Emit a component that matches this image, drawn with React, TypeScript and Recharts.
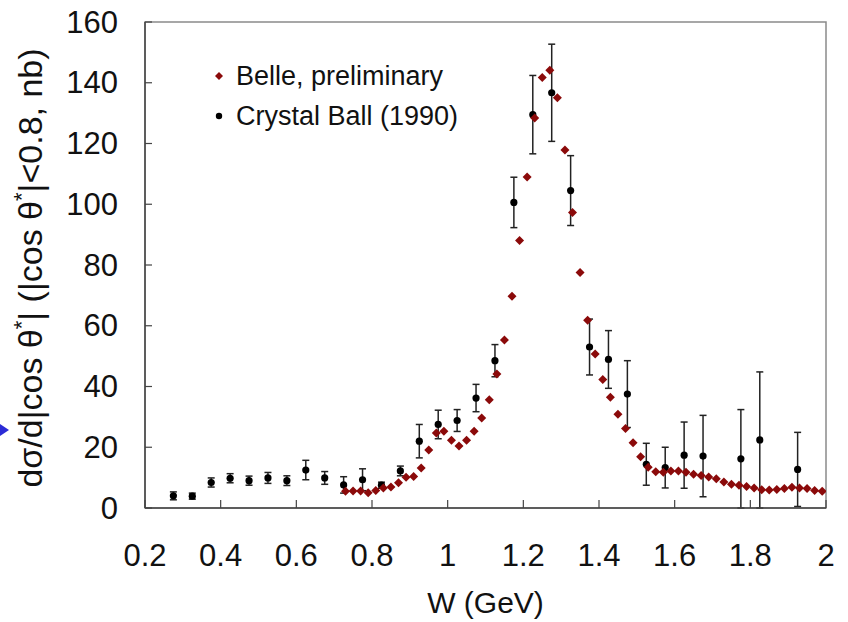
import { ErrorBar, Legend, ReferenceArea, Scatter, ScatterChart, XAxis, YAxis } from "recharts";

const FONT = "'Liberation Sans', Arial, sans-serif";
const BELLE_RED = "#8b0a0a";

// Belle, preliminary (W in GeV, dσ/d|cosθ*| in nb)
const BELLE_W = [
  0.73, 0.75, 0.77, 0.79, 0.81, 0.83, 0.85, 0.87, 0.89, 0.91, 0.93, 0.95, 0.97, 0.99, 1.01, 1.03,
  1.05, 1.07, 1.09, 1.11, 1.13, 1.15, 1.17, 1.19, 1.21, 1.23, 1.25, 1.27, 1.29, 1.31, 1.33, 1.35,
  1.37, 1.39, 1.41, 1.43, 1.45, 1.47, 1.49, 1.51, 1.53, 1.55, 1.57, 1.59, 1.61, 1.63, 1.65, 1.67,
  1.69, 1.71, 1.73, 1.75, 1.77, 1.79, 1.81, 1.83, 1.85, 1.87, 1.89, 1.91, 1.93, 1.95, 1.97, 1.99,
];
const BELLE_XS = [
  5.5, 5.6, 5.6, 5.0, 5.8, 6.6, 6.9, 8.3, 10.1, 10.4, 13.2, 19.1, 24.7, 25.3, 22.3, 20.4,
  22.3, 25.3, 29.6, 35.6, 44.1, 55.3, 69.7, 88.1, 109.0, 128.4, 141.7, 144.1, 135.1, 117.9, 97.3, 77.5,
  61.8, 50.7, 42.3, 36.5, 30.9, 26.2, 21.5, 16.9, 13.4, 11.9, 11.8, 12.2, 12.2, 11.8, 11.1, 10.7,
  10.2, 9.6, 8.6, 7.8, 7.5, 7.1, 6.6, 6.0, 5.9, 6.1, 6.4, 6.8, 6.6, 6.4, 5.8, 5.5,
];

// Crystal Ball (1990)
const CB_W = [
  0.275, 0.325, 0.375, 0.425, 0.475, 0.525, 0.575, 0.625, 0.675, 0.725, 0.775, 0.825, 0.875, 0.925,
  0.975, 1.025, 1.075, 1.125, 1.175, 1.225, 1.275, 1.325, 1.375, 1.425, 1.475, 1.525, 1.575, 1.625,
  1.675, 1.775, 1.825, 1.925,
];
const CB_XS = [
  4.0, 3.9, 8.4, 9.8, 9.0, 9.9, 9.0, 12.5, 9.9, 7.6, 9.3, 7.5, 12.2, 22.0,
  27.5, 28.8, 36.2, 48.5, 100.6, 129.5, 136.7, 104.5, 53.0, 48.9, 37.5, 14.4, 13.3, 17.4,
  17.1, 16.2, 22.4, 12.7,
];
const CB_ERR = [
  1.3, 1.0, 1.5, 1.5, 1.5, 1.8, 1.6, 3.2, 2.1, 2.7, 3.6, 1.0, 1.6, 5.5,
  4.7, 3.6, 4.5, 5.3, 8.3, 12.9, 16.0, 11.5, 9.2, 9.5, 11.0, 6.9, 6.7, 10.9,
  13.4, 16.2, 22.4, 12.2,
];

const X_TICKS = [0.2, 0.4, 0.6, 0.8, 1.0, 1.2, 1.4, 1.6, 1.8, 2.0];
const Y_TICKS = [0, 20, 40, 60, 80, 100, 120, 140, 160];

const belleData = BELLE_W.map((w, i) => ({ w, xs: BELLE_XS[i] }));
const cbData = CB_W.map((w, i) => ({ w, xs: CB_XS[i], err: CB_ERR[i] }));

const fmt = (v: number) => String(Math.round(v * 10) / 10);

function XTick({ x, y, payload }: any) {
  return (
    <g>
      <line x1={x} x2={x} y1={y} y2={y - 8} stroke="#444" strokeWidth={1.2} />
      <text x={x} y={y + 47} textAnchor="middle" dominantBaseline="central" fontSize={31} fill="#111" fontFamily={FONT}>
        {fmt(payload.value)}
      </text>
    </g>
  );
}

function YTick({ x, y, payload }: any) {
  return (
    <g>
      <line x1={x} x2={x + 7} y1={y} y2={y} stroke="#444" strokeWidth={1.2} />
      <text x={x - 27} y={y} textAnchor="end" dominantBaseline="central" fontSize={31} fill="#111" fontFamily={FONT}>
        {fmt(payload.value)}
      </text>
    </g>
  );
}

function XTitle({ viewBox }: any) {
  return (
    <text x={viewBox.x + viewBox.width / 2} y={viewBox.y + 94} textAnchor="middle" dominantBaseline="central" fontSize={30} fill="#111" fontFamily={FONT}>
      W (GeV)
    </text>
  );
}

function YTitle({ viewBox }: any) {
  const cx = 30;
  const cy = viewBox.y + viewBox.height / 2 + 3;
  return (
    <text x={cx} y={cy} transform={`rotate(-90 ${cx} ${cy})`} textAnchor="middle" dominantBaseline="central" fontSize={34} fill="#111" fontFamily={FONT}>
      dσ/d|cos θ<tspan dy={-9} fontSize={22}>*</tspan>
      <tspan dy={9}>| (|cos θ</tspan>
      <tspan dy={-9} fontSize={22}>*</tspan>
      <tspan dy={9}>|&lt;0.8, nb)</tspan>
    </text>
  );
}

const Diamond = ({ cx, cy }: any) => (
  <polygon points={`${cx},${cy - 4.5} ${cx + 4.5},${cy} ${cx},${cy + 4.5} ${cx - 4.5},${cy}`} fill={BELLE_RED} />
);

const Dot = ({ cx, cy }: any) => <circle cx={cx} cy={cy} r={3.6} fill="#000" />;

function LegendBox() {
  return (
    <div style={{ fontFamily: FONT, fontSize: 27, color: "#111", lineHeight: "40px" }}>
      <div style={{ display: "flex", alignItems: "center" }}>
        <svg width={24} height={12}>
          <polygon points="7,2 11,6 7,10 3,6" fill={BELLE_RED} />
        </svg>
        <span>Belle, preliminary</span>
      </div>
      <div style={{ display: "flex", alignItems: "center" }}>
        <svg width={24} height={12}>
          <circle cx={7} cy={6} r={3.2} fill="#000" />
        </svg>
        <span>Crystal Ball (1990)</span>
      </div>
    </div>
  );
}

export default function App() {
  return (
    <div style={{ position: "absolute", left: 0, top: 0, width: 848, height: 622, background: "#fff" }}>
      <svg width={12} height={20} style={{ position: "absolute", left: 0, top: 420 }}>
        <polygon points="0,4 9,10 0,16" fill="#2b2bd6" />
      </svg>
      <ScatterChart width={848} height={622} margin={{ top: 22, right: 22, bottom: 84, left: 85 }}>
        <ReferenceArea x1={0.2} x2={2} y1={0} y2={160} fill="none" stroke="#8a8a8a" strokeWidth={1.5} />
        <XAxis
          type="number"
          dataKey="w"
          domain={[0.2, 2]}
          ticks={X_TICKS}
          allowDataOverflow
          height={30}
          tickSize={0}
          tickMargin={0}
          tickLine={false}
          axisLine={{ stroke: "#444", strokeWidth: 1.5 }}
          tick={<XTick />}
          interval={0}
          label={<XTitle />}
        />
        <YAxis
          type="number"
          dataKey="xs"
          domain={[0, 160]}
          ticks={Y_TICKS}
          allowDataOverflow
          width={60}
          tickSize={0}
          tickMargin={0}
          tickLine={false}
          axisLine={{ stroke: "#444", strokeWidth: 1.5 }}
          tick={<YTick />}
          interval={0}
          label={<YTitle />}
        />
        <Scatter name="Crystal Ball (1990)" data={cbData} shape={<Dot />} isAnimationActive={false}>
          <ErrorBar dataKey="err" direction="y" width={3.5} stroke="#222" strokeWidth={1.5} isAnimationActive={false} />
        </Scatter>
        <Scatter name="Belle, preliminary" data={belleData} shape={<Diamond />} isAnimationActive={false} />
        <Legend
          layout="vertical"
          align="center"
          verticalAlign="middle"
          wrapperStyle={{ left: 212, top: 56, width: 280 }}
          content={() => <LegendBox />}
        />
      </ScatterChart>
    </div>
  );
}
